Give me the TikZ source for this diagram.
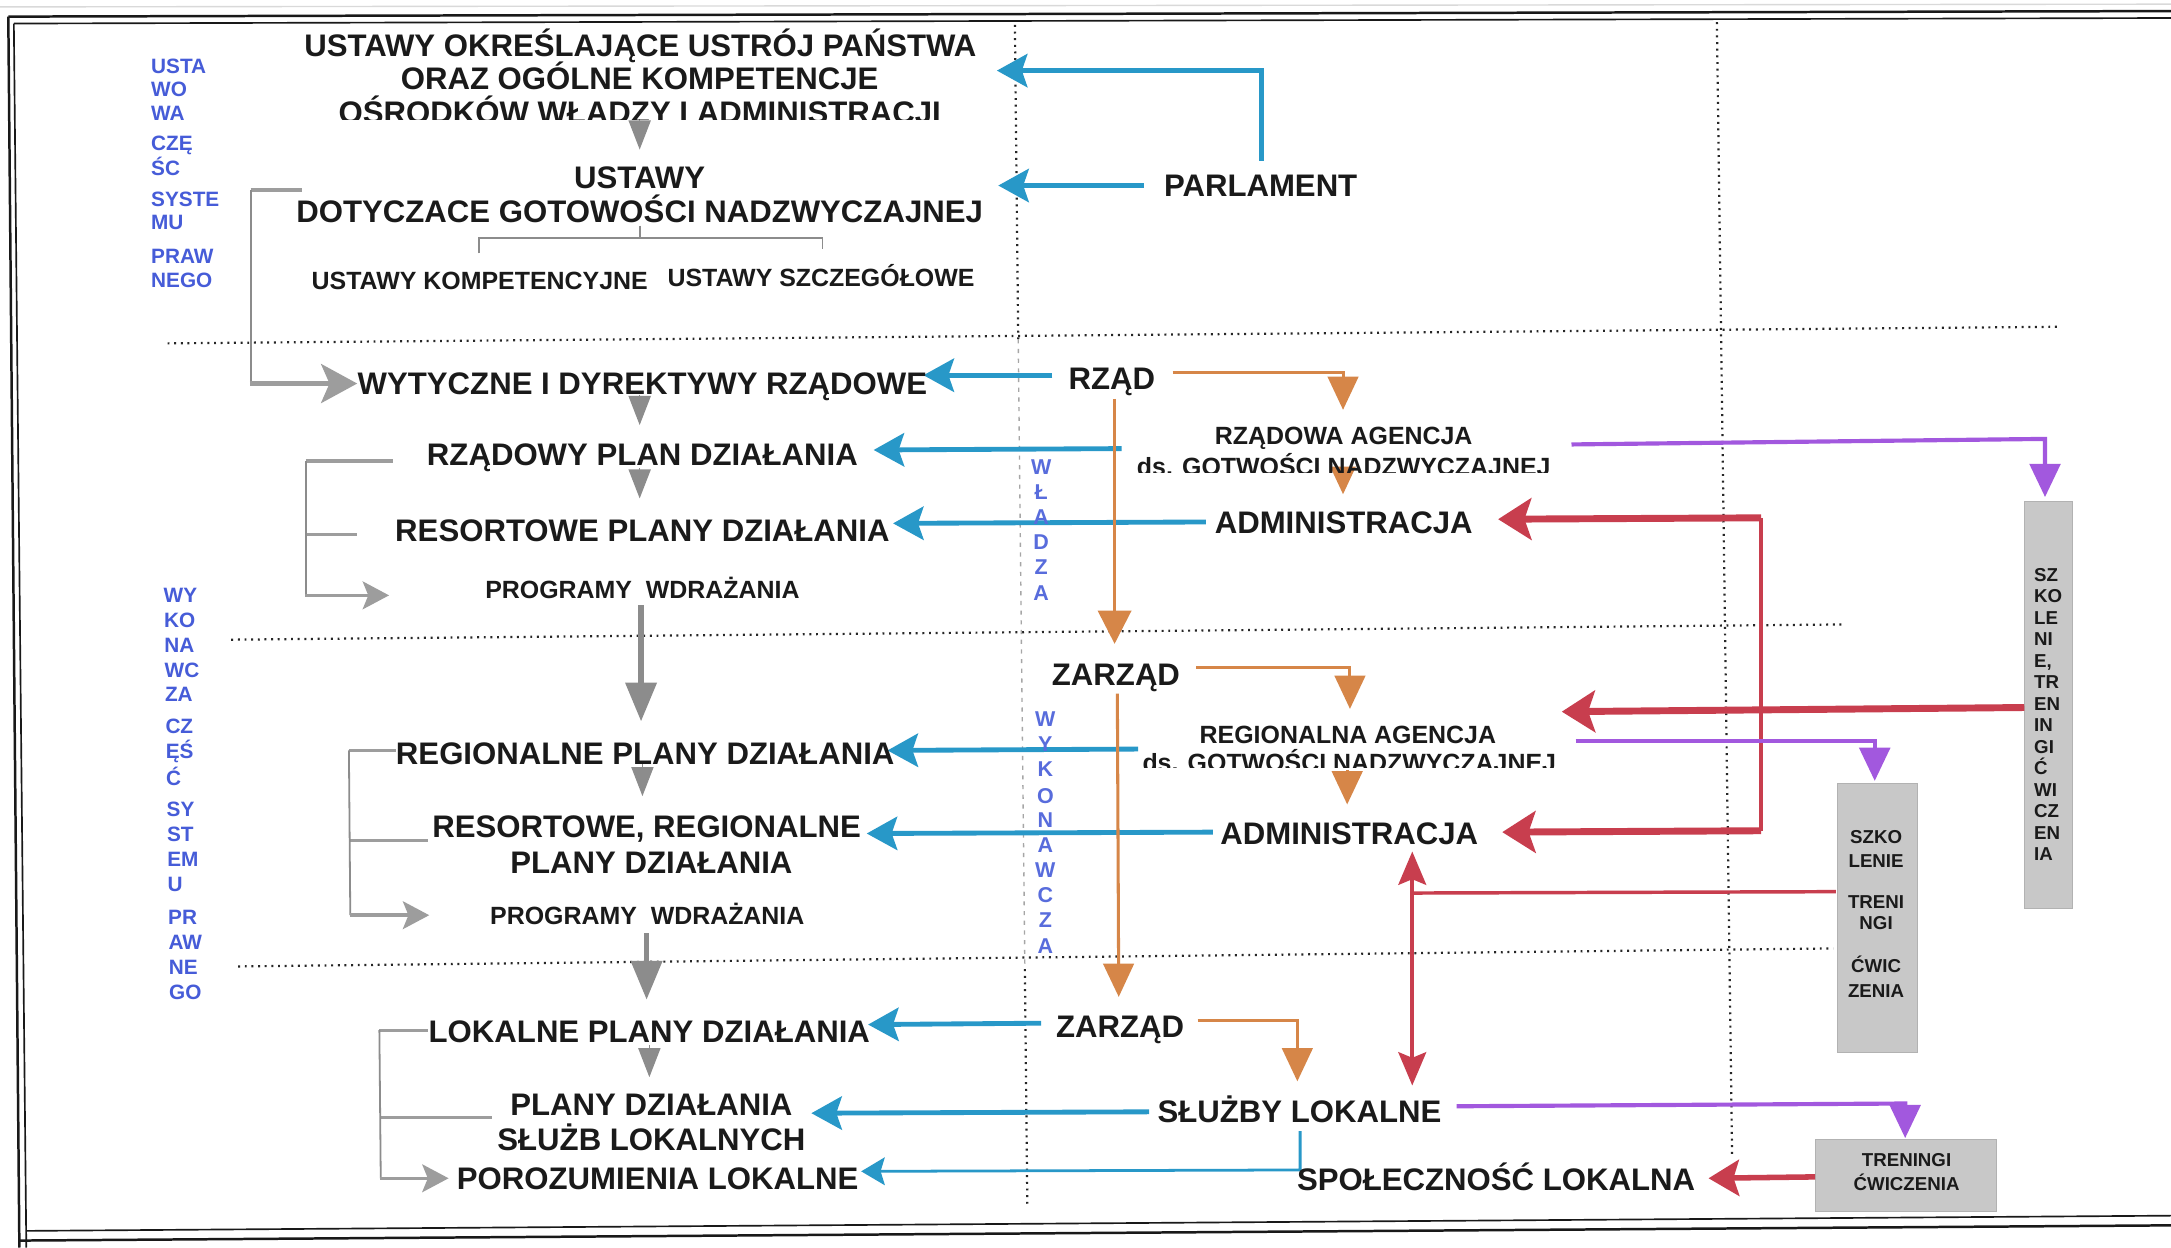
\documentclass[tikz,border=0pt]{standalone}
\usepackage{fontspec}
\setmainfont{Liberation Sans}
\usetikzlibrary{arrows.meta}
\definecolor{cblue}{RGB}{40,152,200}
\definecolor{corange}{RGB}{214,134,72}
\definecolor{cred}{RGB}{200,62,78}
\definecolor{cpurple}{RGB}{162,88,222}
\definecolor{clabel}{RGB}{70,92,216}
\definecolor{cgray}{RGB}{140,140,140}
\definecolor{cbox}{RGB}{200,200,200}
\definecolor{ctext}{RGB}{26,26,26}

\begin{document}
\begin{tikzpicture}[x=1pt,y=-1pt,
  big/.style={font=\fontsize{22.5}{24}\selectfont\bfseries, text=ctext, inner sep=0pt, anchor=base},
  mid/.style={font=\fontsize{18}{20}\selectfont\bfseries, text=ctext, inner sep=0pt, anchor=base},
  side/.style={font=\fontsize{15}{17}\selectfont\bfseries, text=clabel, inner sep=0pt, anchor=base west},
  vlet/.style={font=\fontsize{15.5}{16}\selectfont\bfseries, text=clabel!90, inner sep=0pt, anchor=base},
  boxtxt/.style={font=\fontsize{13.5}{14}\selectfont\bfseries, text=ctext, inner sep=0pt, anchor=base},
  dots/.style={line width=1.6pt, dash pattern=on 1.4pt off 3.4pt, black!85},
  faintdash/.style={line width=1pt, dash pattern=on 3pt off 4pt, black!35},
  grbox/.style={fill=cbox, draw=black!30, line width=0.6pt},
  bluearr/.style={draw=cblue, line width=3.5pt, -{Stealth[length=22pt,width=24pt,inset=4pt]}},
  bluethin/.style={draw=cblue, line width=2pt, -{Stealth[length=17pt,width=20pt,inset=3pt]}},
  orarr/.style={draw=corange, line width=2.2pt, -{Triangle[length=24pt,width=22pt]}},
  redarr/.style={draw=cred, line width=5pt, -{Stealth[length=24pt,width=30pt,inset=5pt]}},
  redline/.style={draw=cred, line width=3pt},
  redboth/.style={draw=cred, line width=3pt, {Stealth[length=24pt,width=20pt,inset=4pt]}-{Stealth[length=24pt,width=20pt,inset=4pt]}},
  purarr/.style={draw=cpurple, line width=3pt, -{Triangle[length=24pt,width=22pt]}},
  gline/.style={draw=cgray, line width=1.3pt},
  gnub/.style={draw=cgray!85, line width=3pt},
  garr/.style={draw=cgray!85, line width=4pt, -{Stealth[length=26pt,width=28pt,inset=6pt]}},
  garrs/.style={draw=cgray!85, line width=2.5pt, -{Stealth[length=19pt,width=20pt,inset=4pt]}},
  gdown/.style={draw=cgray, line width=1pt, -{Triangle[length=21pt,width=16pt]}},
  gdownl/.style={draw=cgray, line width=4pt, -{Triangle[length=28pt,width=22pt]}},
]
\useasboundingbox (0,0) rectangle (1568,901);
\fill[white] (0,0) rectangle (1568,901);

% ---- outer double frame ----
\draw[black!15, line width=1pt] (0,5) -- (1568,3);
\draw[black!90, line width=1.8pt] (6,12) -- (1568,8);
\draw[black!90, line width=1.2pt] (10,17) -- (1568,13);
\draw[black!90, line width=1.8pt] (6,12) -- (14,901);
\draw[black!90, line width=1.2pt] (10,17) -- (19,901);
\draw[black!90, line width=1.2pt] (19,889) -- (1568,878);
\draw[black!90, line width=1.8pt] (14,896) -- (1568,885);

% ---- separating dotted lines ----
\draw[dots] (121,248) -- (1488,236);
\draw[dots] (167,462) -- (1332,451);
\draw[dots] (172,698) -- (1324,685);
\draw[dots] (733,18) -- (735.4,245);
\draw[faintdash] (735.4,245) -- (740.2,700);
\draw[dots] (740.2,700) -- (742,872);
\draw[dots] (1240,16) -- (1251,835);

% ---- grey boxes ----
\node[grbox, minimum width=35pt, minimum height=294pt, inner sep=0pt] (boxA) at (1479.5,509) {};
\node[grbox, minimum width=58pt, minimum height=194pt, inner sep=0pt] (boxB) at (1356,663) {};
\node[grbox, minimum width=131pt, minimum height=52pt, inner sep=0pt] (boxC) at (1376.5,849) {};

% ---- connector points ----
\coordinate (pA1) at (911,116);  \coordinate (pA2) at (911,51);  \coordinate (pA3) at (720,51);
\coordinate (pB1) at (826,134);  \coordinate (pB2) at (721,134);
\coordinate (rA1) at (760,271);  \coordinate (rA2) at (667,271);
\coordinate (rB1) at (810,324);  \coordinate (rB2) at (631,325);
\coordinate (rC1) at (871,377);  \coordinate (rC2) at (645,378);
\coordinate (zA1) at (822,541);  \coordinate (zA2) at (641,542);
\coordinate (zB1) at (876,601);  \coordinate (zB2) at (626,602);
\coordinate (lA1) at (752,739);  \coordinate (lA2) at (627,740);
\coordinate (lB1) at (830,803);  \coordinate (lB2) at (586,804);
\coordinate (lC1) at (939,817);  \coordinate (lC2) at (939,845);  \coordinate (lC3) at (622,846);

% ---- blue: authority to documents ----
\draw[bluearr] (pA1) -- (pA2) -- (pA3);
\draw[bluearr] (pB1) -- (pB2);
\draw[bluearr] (rA1) -- (rA2);
\draw[bluearr] (rB1) -- (rB2);
\draw[bluearr] (rC1) -- (rC2);
\draw[bluearr] (zA1) -- (zA2);
\draw[bluearr] (zB1) -- (zB2);
\draw[bluearr] (lA1) -- (lA2);
\draw[bluearr] (lB1) -- (lB2);
\draw[bluethin] (lC1) -- (lC2) -- (lC3);

% ---- orange: chain of executive bodies ----
\coordinate (oA1) at (847,269); \coordinate (oA2) at (970,269); \coordinate (oA3) at (970,296);
\coordinate (oB1) at (970,337); \coordinate (oB2) at (970,357);
\coordinate (oC1) at (805,288); \coordinate (oC2) at (805,465);
\coordinate (oD1) at (864,482); \coordinate (oD2) at (975,482); \coordinate (oD3) at (975,512);
\coordinate (oE1) at (973,556); \coordinate (oE2) at (973,581);
\coordinate (oF1) at (807,501); \coordinate (oF2) at (808,720);
\coordinate (oG1) at (865,737); \coordinate (oG2) at (937,737); \coordinate (oG3) at (937,781);
\draw[orarr] (oA1) -- (oA2) -- (oA3);
\draw[orarr, -{Triangle[length=20pt,width=18pt]}] (oB1) -- (oB2);
\draw[orarr, -{Triangle[length=24pt,width=24pt]}] (oC1) -- (oC2);
\draw[orarr] (oD1) -- (oD2) -- (oD3);
\draw[orarr] (oE1) -- (oE2);
\draw[orarr] (oF1) -- (oF2);
\draw[orarr] (oG1) -- (oG2) -- (oG3);

% ---- red: training feedback ----
\coordinate (qA1) at (1462,511); \coordinate (qA2) at (1128,514);
\coordinate (qB1) at (1272,374); \coordinate (qB2) at (1082,375);
\coordinate (qC1) at (1272,600); \coordinate (qC2) at (1085,601);
\coordinate (qD1) at (1326,644); \coordinate (qD2) at (1020,645);
\coordinate (qE1) at (1020,615); \coordinate (qE2) at (1020,784);
\coordinate (qF1) at (1311,850); \coordinate (qF2) at (1234,851);
\draw[redline] (qB1) -- (qC1);
\draw[redarr] (qA1) -- (qA2);
\draw[redarr] (qB1) -- (qB2);
\draw[redarr] (qC1) -- (qC2);
\draw[redline, line width=2.5pt] (qD1) -- (qD2);
\draw[redboth] (qE1) -- (qE2);
\draw[redarr, line width=4pt, -{Stealth[length=22pt,width=26pt,inset=4pt]}] (qF1) -- (qF2);

% ---- purple: towards training ----
\coordinate (vA1) at (1135,321); \coordinate (vA2) at (1477,317); \coordinate (vA3) at (1477,359);
\coordinate (vB1) at (1138,535); \coordinate (vB2) at (1354,535); \coordinate (vB3) at (1354,564);
\coordinate (vC1) at (1052,799); \coordinate (vC2) at (1376,797); \coordinate (vC3) at (1376,822);
\draw[purarr] (vA1) -- (vA2) -- (vA3);
\draw[purarr] (vB1) -- (vB2) -- (vB3);
\draw[purarr] (vC1) -- (vC2) -- (vC3);

% ---- grey: document hierarchy ----
\draw[gline] (462,163) -- (462,172);
\draw[gline] (346,183) -- (346,172) -- (594,172) -- (594,180);
% brackets on the left
\draw[gnub] (181,137) -- (218,137);
\draw[gline] (181,137) -- (181,277);
\draw[garr] (180.5,277) -- (258,277);
\draw[gnub, line width=2.5pt] (221,333) -- (284,333);
\draw[gnub, line width=2.5pt] (221,386) -- (258,386);
\draw[gline] (221,333) -- (221,430);
\draw[garrs] (220.5,430) -- (281,430);
\draw[gnub, line width=2pt] (252,542) -- (286,542);
\draw[gnub, line width=2pt] (253,607) -- (309,607);
\draw[gline] (252,542) -- (253,661);
\draw[garrs] (252.5,661) -- (310,661);
\draw[gnub, line width=2pt] (274,744) -- (309,744);
\draw[gnub, line width=2.5pt] (275,807) -- (355,807);
\draw[gline] (274,744) -- (275,851);
\draw[garrs] (274.5,851) -- (324,851);
% downward steps
\draw[gdown] (462,86) -- (462,108);
\draw[gdown] (462,285) -- (462,307);
\draw[gdown] (462,338) -- (462,360);
\draw[gdownl] (463,437) -- (463,521);
\draw[gdown] (464,552) -- (464,575);
\draw[gdownl] (467,674) -- (467,722);
\draw[gdown] (469,755) -- (469,778);

% ---- texts: statutory part ----
\node[big] (ust1) at (462.5,41) {USTAWY OKREŚLAJĄCE USTRÓJ PAŃSTWA};
\node[big] (ust2) at (462,65) {ORAZ OGÓLNE KOMPETENCJE};
\begin{scope}
  \clip (200,60) rectangle (720,86.5);
  \node[big] (ust3) at (462,89) {OŚRODKÓW WŁADZY I ADMINISTRACJI};
\end{scope}
\node[big] (ugn1) at (462,136) {USTAWY};
\node[big] (ugn2) at (462,161) {DOTYCZACE GOTOWOŚCI NADZWYCZAJNEJ};
\node[mid] (ukomp) at (346.5,209) {USTAWY KOMPETENCYJNE};
\node[mid] (uszcz) at (593,207) {USTAWY SZCZEGÓŁOWE};
\node[big] (parl) at (910.5,142) {PARLAMENT};

% ---- texts: government level ----
\node[big] (wyt) at (464,285) {WYTYCZNE I DYREKTYWY RZĄDOWE};
\node[big] (rzad) at (803,281) {RZĄD};
\node[mid] (ag1a) at (970.5,321) {RZĄDOWA AGENCJA};
\begin{scope}
  \clip (800,325) rectangle (1140,341);
  \node[mid] (ag1b) at (970.5,343.5) {ds. GOTWOŚCI NADZWYCZAJNEJ};
\end{scope}
\node[big] (rpd) at (464,336) {RZĄDOWY PLAN DZIAŁANIA};
\node[big] (rspd) at (464,391) {RESORTOWE PLANY DZIAŁANIA};
\node[big] (adm1) at (970.5,385) {ADMINISTRACJA};
\node[mid] (prog1) at (464,432) {PROGRAMY\ \ WDRAŻANIA};

% ---- texts: regional level ----
\node[big] (zarz1) at (806,495) {ZARZĄD};
\node[mid] (ag2a) at (973.5,537) {REGIONALNA AGENCJA};
\begin{scope}
  \clip (800,540) rectangle (1140,554.5);
  \node[mid] (ag2b) at (974.5,557) {ds. GOTWOŚCI NADZWYCZAJNEJ};
\end{scope}
\node[big] (regpd) at (466,552) {REGIONALNE PLANY DZIAŁANIA};
\node[big] (rrpd1) at (467,605) {RESORTOWE, REGIONALNE};
\node[big] (rrpd2) at (470.5,631) {PLANY DZIAŁANIA};
\node[big] (adm2) at (974.5,610) {ADMINISTRACJA};
\node[mid] (prog2) at (467.5,668) {PROGRAMY\ \ WDRAŻANIA};

% ---- texts: local level ----
\node[big] (lpd) at (469,753) {LOKALNE PLANY DZIAŁANIA};
\node[big] (zarz2) at (809,749) {ZARZĄD};
\node[big] (psl1) at (470.5,806) {PLANY DZIAŁANIA};
\node[big] (psl2) at (470.5,831) {SŁUŻB LOKALNYCH};
\node[big] (slok) at (938.5,811) {SŁUŻBY LOKALNE};
\node[big] (poroz) at (475,859) {POROZUMIENIA LOKALNE};
\node[big] (spol) at (1080.5,860) {SPOŁECZNOŚĆ LOKALNA};

% ---- blue side labels ----
\foreach \t/\yy [count=\i] in {USTA/53,WO/70,WA/87,CZĘ/109,ŚC/127,SYSTE/149,MU/166,PRAW/190,NEGO/208}
  \node[side] (la\i) at (109,\yy) {\t};
\foreach \t/\yy [count=\i] in {WY/435,KO/453,NA/471,WC/489,ZA/507,CZ/530,ĘŚ/548,Ć/567,SY/590,ST/608,EM/626,U/644,PR/668,AW/686,NE/704,GO/722}
  \node[side] (lb\i) at ({118+(\yy-435)*0.014},\yy) {\t};
\foreach \t/\yy [count=\i] in {W/343,Ł/361,A/379,D/397,Z/415,A/434}
  \node[vlet] (vw\i) at (752,\yy) {\t};
\foreach \t/\yy [count=\i] in {W/525,Y/543,K/561,O/580,N/598,A/616,W/634,C/652,Z/670,A/689}
  \node[vlet] (vx\i) at (755,\yy) {\t};

% ---- texts in the grey boxes ----
\foreach \t [count=\i] in {SZ,KO,LE,NI,{E,},TR,EN,IN,GI,Ć,WI,CZ,EN,IA}
  \node[boxtxt, anchor=base west] (sa\i) at (1469,{420+(\i-1)*15.5}) {\t};
\foreach \t/\yy [count=\i] in {SZKO/609.5,LENIE/626.5,TRENI/656.5,NGI/671.5,ĆWIC/702.5,ZENIA/720.5}
  \node[boxtxt] (sb\i) at (1355,\yy) {\t};
\node[boxtxt] (sc1) at (1377,842.5) {TRENINGI};
\node[boxtxt] (sc2) at (1377,859.5) {ĆWICZENIA};
\end{tikzpicture}
\end{document}
